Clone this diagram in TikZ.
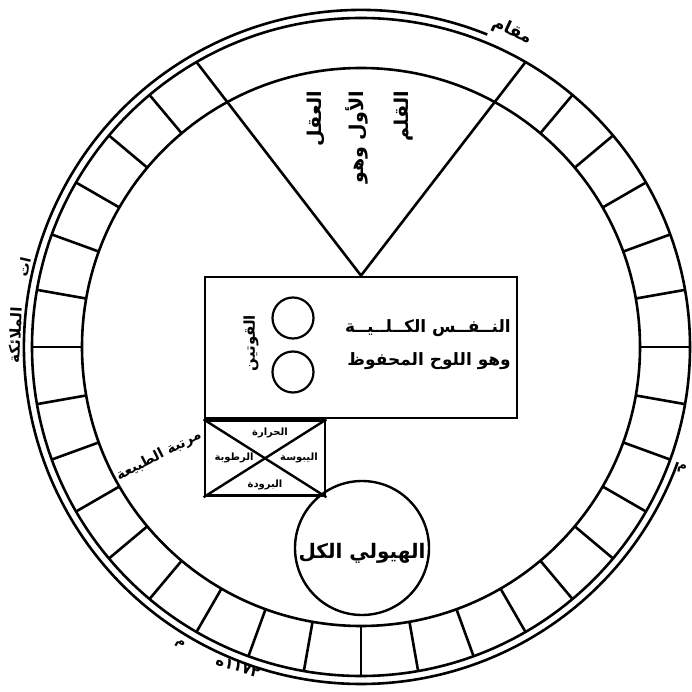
\documentclass[tikz,border=0pt]{standalone}
\usepackage{fontspec}
\newfontfamily\arabicfont[Script=Arabic]{DejaVu Sans}
\TeXXeTstate=1
\begin{document}
\begin{tikzpicture}[x=1pt,y=1pt,
  ring/.style={line width=2.6pt},
  boxline/.style={draw, line width=2.8pt},
  lbl/.style={inner sep=0pt, font=\arabicfont\bfseries}]
\useasboundingbox (-361,-345) rectangle (331,347);
% rings
\draw[ring] (0,0) circle[radius=279];
\draw[ring] (0,0) circle[radius=329];
\draw[ring] (68:337) arc[start angle=68, end angle=340, radius=337];
% cell dividers
\foreach \a in {130,140,...,410} \draw[ring] (\a:279) -- (\a:329);
% central rectangle
\node[boxline, minimum width=312pt, minimum height=141pt, inner sep=0pt] (nafs) at (0,-0.5) {};
\coordinate (vl) at (120:329);
\coordinate (vr) at (60:329);
\draw[ring] (vl) -- (nafs.north) -- (vr);
% top texts
\node[lbl, font=\arabicfont\bfseries\fontsize{19}{22}\selectfont, rotate=90, anchor=east] (aql) at (-45,256) {\beginR العقل\endR};
\node[lbl, font=\arabicfont\bfseries\fontsize{19}{22}\selectfont, rotate=90, anchor=east] (awwal) at (-4,256) {\beginR الأول وهو\endR};
\node[lbl, font=\arabicfont\bfseries\fontsize{19}{22}\selectfont, rotate=90, anchor=east] (qalam) at (43,256) {\beginR القلم\endR};
% rectangle texts
\node[lbl, font=\arabicfont\bfseries\fontsize{17}{20}\selectfont, anchor=east] (t1) at (150,19) {\beginR النــفــس الكــلــيــة\endR};
\node[lbl, font=\arabicfont\bfseries\fontsize{17}{20}\selectfont, anchor=east] (t2) at (150,-14) {\beginR وهو اللوح المحفوظ\endR};
\node[draw, line width=2.2pt, circle, minimum size=41pt, inner sep=0pt] (c1) at (-68,29) {};
\node[draw, line width=2.2pt, circle, minimum size=41pt, inner sep=0pt] (c2) at (-68,-25) {};
\node[lbl, font=\arabicfont\bfseries\fontsize{15}{17}\selectfont, rotate=90] (quwwa) at (-110,4) {\beginR القوتين\endR};
% cross box
\node[boxline, anchor=north west, minimum width=120pt, minimum height=75pt, inner sep=0pt] (box) at (nafs.south west) {};
\draw[line width=2.4pt] (box.north west) -- (box.south east);
\draw[line width=2.4pt] (box.south west) -- (box.north east);
\node[lbl, font=\arabicfont\bfseries\fontsize{10}{11}\selectfont] (har) at (-91,-86) {\beginR الحرارة\endR};
\node[lbl, font=\arabicfont\bfseries\fontsize{10}{11}\selectfont] (rut) at (-127,-111) {\beginR الرطوبة\endR};
\node[lbl, font=\arabicfont\bfseries\fontsize{10}{11}\selectfont] (yub) at (-62,-111) {\beginR اليبوسة\endR};
\node[lbl, font=\arabicfont\bfseries\fontsize{10}{11}\selectfont] (bur) at (-96,-138) {\beginR البرودة\endR};
\node[lbl, font=\arabicfont\bfseries\fontsize{14}{16}\selectfont, rotate=27, anchor=south east] (tab) at (-157,-94) {\beginR مرتبة الطبيعة\endR};
% hayula circle
\node[draw, line width=2.4pt, circle, minimum size=134pt, inner sep=0pt] (hay) at (1,-201) {};
\node[lbl, font=\arabicfont\bfseries\fontsize{20}{23}\selectfont] (hayt) at (1,-206) {\beginR الهيولي الكل\endR};
% ring labels
\node[lbl, font=\arabicfont\bfseries\fontsize{17}{19}\selectfont, rotate=-25] (maqam) at (151,316) {\beginR مقام\endR};
\node[lbl, font=\arabicfont\bfseries\fontsize{13}{15}\selectfont, rotate=-10] (mimr) at (321,-122) {\beginR م\endR};
\node[lbl, font=\arabicfont\bfseries\fontsize{13}{15}\selectfont, rotate=-30] (miml) at (-181,-297) {\beginR م\endR};
\node[lbl, font=\arabicfont\bfseries\fontsize{15}{17}\selectfont, rotate=-18] (year) at (-123,-320) {١١٧٢ه};
\node[lbl, font=\arabicfont\bfseries\fontsize{14}{16}\selectfont, rotate=77] (at) at (-337,80) {\beginR ات\endR};
\node[lbl, font=\arabicfont\bfseries\fontsize{15}{17}\selectfont, rotate=87] (mal) at (-346,12) {\beginR الملائكة\endR};
\end{tikzpicture}
\end{document}
